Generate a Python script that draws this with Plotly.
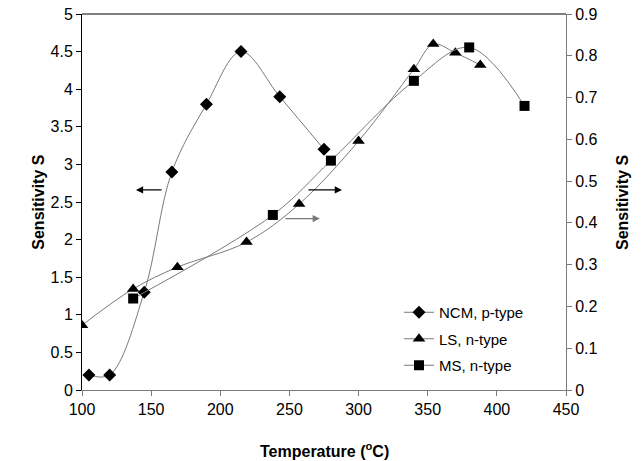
import plotly.graph_objects as go

# NCM, p-type (left axis)
ncm_t = [105, 120, 145, 165, 190, 215, 243, 275]
ncm_s = [0.2, 0.2, 1.3, 2.9, 3.8, 4.5, 3.9, 3.2]

# LS, n-type (right axis)
ls_t = [100, 137, 169, 219, 257, 300, 340, 354, 370, 388]
ls_s = [0.155, 0.242, 0.294, 0.354, 0.445, 0.596, 0.768, 0.828, 0.807, 0.778]

# MS, n-type (right axis)
ms_t = [137, 238, 280, 340, 380, 420]
ms_s = [0.219, 0.419, 0.549, 0.740, 0.820, 0.680]

x_ticks = [100, 150, 200, 250, 300, 350, 400, 450]
left_ticks = [0, 0.5, 1, 1.5, 2, 2.5, 3, 3.5, 4, 4.5, 5]
right_ticks = [0, 0.1, 0.2, 0.3, 0.4, 0.5, 0.6, 0.7, 0.8, 0.9]

FONT = "Arial, Liberation Sans, sans-serif"
LINE = "#7a7a7a"

fig = go.Figure()
fig.add_trace(go.Scatter(x=ncm_t, y=ncm_s, name="NCM, p-type", mode="lines+markers",
                         line=dict(color=LINE, width=1, shape="spline", smoothing=1),
                         marker=dict(symbol="diamond", size=10, color="black"),
                         legendgroup="a"))
fig.add_trace(go.Scatter(x=ls_t, y=ls_s, name="LS, n-type", mode="lines+markers", yaxis="y2",
                         line=dict(color=LINE, width=1, shape="spline", smoothing=1),
                         marker=dict(symbol="triangle-up", size=11, color="black"),
                         legendgroup="b"))
fig.add_trace(go.Scatter(x=ms_t, y=ms_s, name="MS, n-type", mode="lines+markers", yaxis="y2",
                         line=dict(color=LINE, width=1, shape="spline", smoothing=1),
                         marker=dict(symbol="square", size=10, color="black"),
                         legendgroup="c"))

# arrows indicating axis membership
arrows = [
    dict(tail=(158.6, 2.66), head=(139.0, 2.66), color="black"),
    dict(tail=(262.7, 2.66), head=(288.0, 2.66), color="black"),
    dict(tail=(246.0, 2.28), head=(272.0, 2.28), color="#7a7a7a"),
]
for a in arrows:
    fig.add_annotation(x=a["head"][0], y=a["head"][1], ax=a["tail"][0], ay=a["tail"][1],
                       xref="x", yref="y", axref="x", ayref="y", text="",
                       showarrow=True, arrowhead=2, arrowsize=1.2, arrowwidth=1.2,
                       arrowcolor=a["color"])

fig.add_shape(type="line", xref="paper", yref="paper", x0=0, x1=1, y0=1, y1=1,
              line=dict(color="black", width=1))

# axis titles as annotations (fixed positions)
fig.add_annotation(text="<b>Temperature (<sup>o</sup>C)</b>", xref="paper", yref="paper",
                   x=0.5, y=-0.159, xanchor="center", yanchor="middle", showarrow=False,
                   font=dict(family=FONT, size=16))
fig.add_annotation(text="<b>Sensitivity S</b>", xref="paper", yref="paper",
                   x=-0.0915, y=0.5, xanchor="center", yanchor="middle", showarrow=False,
                   textangle=-90, font=dict(family=FONT, size=16))
fig.add_annotation(text="<b>Sensitivity S</b>", xref="paper", yref="paper",
                   x=1.1157, y=0.5, xanchor="center", yanchor="middle", showarrow=False,
                   textangle=-90, font=dict(family=FONT, size=16))

fig.update_layout(
    width=642, height=461,
    margin=dict(l=82, r=76, t=14, b=71),
    plot_bgcolor="white", paper_bgcolor="white",
    font=dict(family=FONT, size=16, color="black"),
    showlegend=True,
    legend=dict(x=0.655, y=0.25, xanchor="left", yanchor="top",
                font=dict(family=FONT, size=15), bgcolor="rgba(0,0,0,0)",
                traceorder="grouped", tracegroupgap=4),
    xaxis=dict(range=[100, 450], tickvals=x_ticks, ticks="outside", ticklen=5,
               tickcolor="#7a7a7a", showline=True, linecolor="#7a7a7a", showgrid=False,
               zeroline=False, automargin=False),
    yaxis=dict(range=[0, 5], tickvals=left_ticks, ticks="outside", ticklen=5,
               tickcolor="black", showline=True, linecolor="black", showgrid=False,
               zeroline=False, automargin=False),
    yaxis2=dict(range=[0, 0.9], tickvals=right_ticks, ticks="outside", ticklen=5,
                tickcolor="#7a7a7a", showline=True, linecolor="#7a7a7a", showgrid=False,
                zeroline=False, overlaying="y", side="right", automargin=False),
)

fig.write_html("out.html", config={"displayModeBar": False},
               post_script="document.body.style.margin='0px';document.body.style.overflow='hidden';")
